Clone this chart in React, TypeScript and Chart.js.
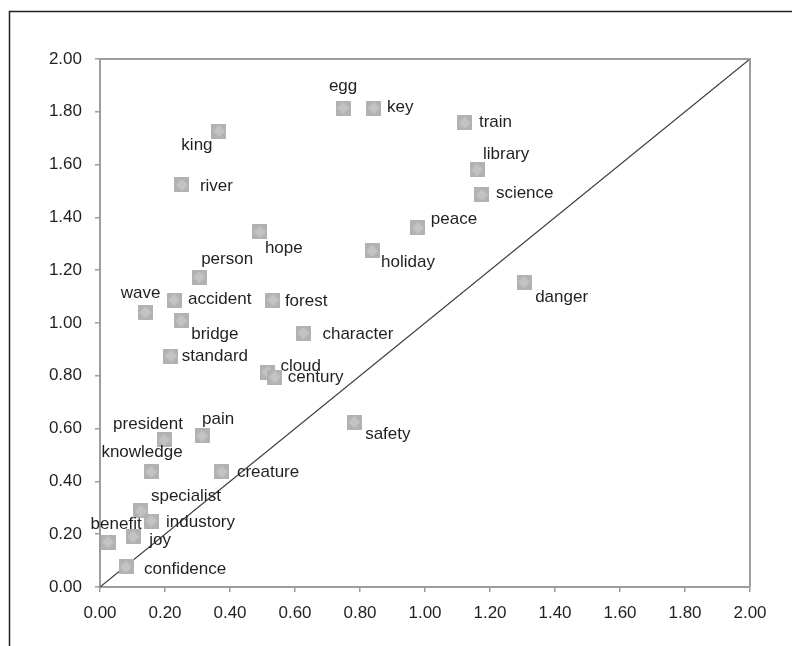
import React, { useEffect, useRef } from "react";
import { Chart, registerables } from "chart.js";

Chart.register(...registerables);

// ---- data ----
const words = [
  "egg", "key", "train", "library", "science", "king", "river", "hope", "person", "peace",
  "holiday", "danger", "accident", "forest", "wave", "bridge", "character", "standard", "cloud", "century",
  "safety", "president", "pain", "knowledge", "creature", "specialist", "industory", "benefit", "joy", "confidence",
];
const xValues = [
  0.748, 0.843, 1.123, 1.16, 1.175, 0.366, 0.252, 0.492, 0.305, 0.978,
  0.837, 1.305, 0.228, 0.532, 0.14, 0.25, 0.626, 0.218, 0.515, 0.538,
  0.782, 0.197, 0.314, 0.157, 0.375, 0.126, 0.157, 0.025, 0.102, 0.08,
];
const yValues = [
  1.814, 1.814, 1.758, 1.58, 1.485, 1.727, 1.523, 1.345, 1.174, 1.36,
  1.273, 1.155, 1.087, 1.087, 1.04, 1.008, 0.962, 0.875, 0.814, 0.795,
  0.625, 0.557, 0.572, 0.436, 0.436, 0.288, 0.25, 0.17, 0.19, 0.076,
];
const diagonalLine = [
  { x: 0, y: 0 },
  { x: 2, y: 2 },
];
const axisMin = 0;
const axisMax = 2;
const axisStep = 0.2;

// ---- label placement (layout only): [align, dx, dy(baseline)] ----
const labelPlacement: [CanvasTextAlign, number, number][] = [
  ["center", 0, -17], ["left", 13, 4], ["left", 14, 4], ["left", 6, -11], ["left", 14, 3],
  ["center", -22, 19], ["left", 18, 6], ["left", 5, 21], ["left", 2, -13], ["left", 13, -4],
  ["left", 9, 16], ["left", 11, 20], ["left", 14, 4], ["left", 12, 6], ["center", -5, -14],
  ["left", 10, 18], ["left", 19, 6], ["left", 11, 5], ["left", 13, -1], ["left", 13, 5],
  ["left", 11, 17], ["center", -16, -11], ["left", 0, -12], ["center", -9, -15], ["left", 15, 5],
  ["left", 10, -10], ["left", 15, 6], ["center", 8, -13], ["left", 16, 8], ["left", 18, 7],
];

const FONT = "Arial, 'Liberation Sans', sans-serif";
const TEXT = "#231f20";
const AXIS = "#9d9d9d";

function makeMarker(): HTMLCanvasElement {
  const c = document.createElement("canvas");
  c.width = 15;
  c.height = 15;
  const g = c.getContext("2d")!;
  g.fillStyle = "#b2b2b2";
  g.fillRect(0, 0, 15, 15);
  g.fillStyle = "#c3c3c3";
  g.beginPath();
  g.moveTo(7.5, 1.5);
  g.lineTo(13.5, 7.5);
  g.lineTo(7.5, 13.5);
  g.lineTo(1.5, 7.5);
  g.closePath();
  g.fill();
  return c;
}

const framePlugin = {
  id: "frame",
  beforeDraw(chart: any) {
    const ctx = chart.ctx;
    ctx.save();
    ctx.fillStyle = "#ffffff";
    ctx.fillRect(0, 0, chart.width, chart.height);
    ctx.strokeStyle = TEXT;
    ctx.lineWidth = 1.5;
    ctx.beginPath();
    ctx.moveTo(9.5, chart.height);
    ctx.lineTo(9.5, 11.5);
    ctx.lineTo(chart.width, 11.5);
    ctx.stroke();
    ctx.restore();
  },
  afterDraw(chart: any) {
    const a = chart.chartArea;
    const ctx = chart.ctx;
    ctx.save();
    ctx.strokeStyle = AXIS;
    ctx.lineWidth = 2;
    ctx.beginPath();
    ctx.moveTo(a.left, a.top);
    ctx.lineTo(a.right, a.top);
    ctx.lineTo(a.right, a.bottom);
    ctx.stroke();
    ctx.restore();
  },
};

const labelPlugin = {
  id: "wordLabels",
  afterDatasetsDraw(chart: any) {
    const ctx = chart.ctx;
    const meta = chart.getDatasetMeta(0);
    ctx.save();
    ctx.font = `17px ${FONT}`;
    ctx.fillStyle = TEXT;
    ctx.textBaseline = "alphabetic";
    meta.data.forEach((pt: any, i: number) => {
      const [align, dx, dy] = labelPlacement[i];
      ctx.textAlign = align;
      ctx.fillText(words[i], pt.x + dx, pt.y + dy);
    });
    ctx.restore();
  },
};

export default function App() {
  const ref = useRef<HTMLCanvasElement | null>(null);

  useEffect(() => {
    if (!ref.current) return;
    const marker = makeMarker();
    const points = xValues.map((x, i) => ({ x, y: yValues[i] }));
    const tickCb = (v: any) => Number(v).toFixed(2);
    const chart = new Chart(ref.current, {
      type: "scatter",
      data: {
        datasets: [
          {
            data: points,
            pointStyle: marker as any,
            pointRadius: 7.5,
            order: 0,
          },
          {
            type: "line",
            data: diagonalLine,
            borderColor: "#404040",
            borderWidth: 1.3,
            pointRadius: 0,
            showLine: true,
            order: 1,
          } as any,
        ],
      },
      options: {
        animation: false,
        responsive: false,
        events: [],
        layout: { padding: { left: 0, right: 42, top: 59, bottom: 0 } },
        plugins: {
          legend: { display: false },
          tooltip: { enabled: false },
        },
        scales: {
          x: {
            type: "linear",
            min: axisMin,
            max: axisMax,
            afterFit: (s: any) => {
              s.height = 59;
            },
            ticks: {
              stepSize: axisStep,
              callback: tickCb,
              color: TEXT,
              font: { family: FONT, size: 17 },
              padding: 11,
              maxRotation: 0,
              autoSkip: false,
            },
            grid: {
              drawOnChartArea: false,
              drawTicks: true,
              tickLength: 5,
              color: AXIS,
              lineWidth: 1.5,
            },
            border: { display: true, color: AXIS, width: 2 },
          },
          y: {
            type: "linear",
            min: axisMin,
            max: axisMax,
            afterFit: (s: any) => {
              s.width = 100;
            },
            ticks: {
              stepSize: axisStep,
              callback: tickCb,
              color: TEXT,
              font: { family: FONT, size: 17 },
              padding: 13,
              autoSkip: false,
            },
            grid: {
              drawOnChartArea: false,
              drawTicks: true,
              tickLength: 5,
              color: AXIS,
              lineWidth: 1.5,
            },
            border: { display: true, color: AXIS, width: 2 },
          },
        },
      },
      plugins: [framePlugin, labelPlugin],
    });
    return () => chart.destroy();
  }, []);

  return (
    <div style={{ position: "fixed", left: 0, top: 0, width: 792, height: 646, background: "#fff" }}>
      <canvas ref={ref} width={792} height={646} style={{ display: "block", width: 792, height: 646 }} />
    </div>
  );
}
